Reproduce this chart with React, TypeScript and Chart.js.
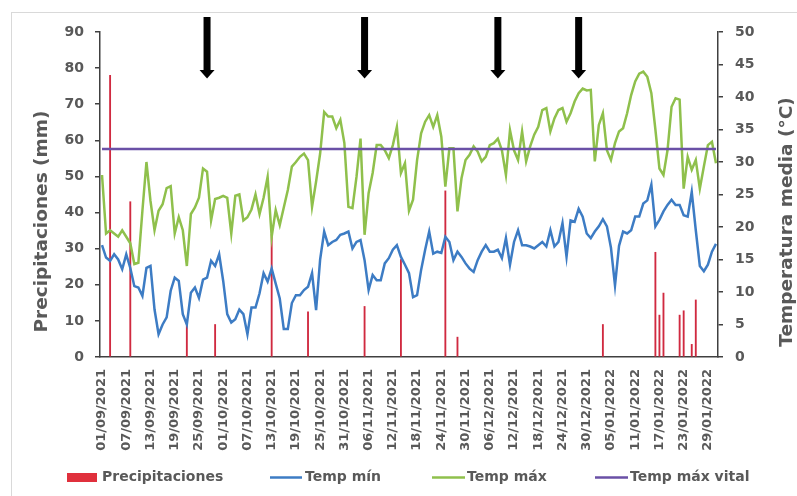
import React, { useEffect, useRef } from 'react';
import { Chart, registerables } from 'chart.js';

Chart.register(...registerables);

// Daily series from 01/09/2021 to 31/01/2022
const FIRST_DAY = Date.UTC(2021, 8, 1);
const DAY_COUNT = 153;
const TICK_EVERY = 6;

const dates: string[] = [];
for (let i = 0; i < DAY_COUNT; i++) {
  const d = new Date(FIRST_DAY + i * 86400000);
  const dd = String(d.getUTCDate()).padStart(2, '0');
  const mm = String(d.getUTCMonth() + 1).padStart(2, '0');
  dates.push(`${dd}/${mm}/${d.getUTCFullYear()}`);
}

// Rain events (mm); every other day is dry
const rainEvents: [string, number][] = [
  ['03/09/2021', 78],
  ['08/09/2021', 43],
  ['22/09/2021', 9],
  ['29/09/2021', 9],
  ['13/10/2021', 34],
  ['22/10/2021', 12.5],
  ['05/11/2021', 14],
  ['14/11/2021', 27],
  ['25/11/2021', 46],
  ['28/11/2021', 5.5],
  ['03/01/2022', 9],
  ['16/01/2022', 29],
  ['17/01/2022', 11.6],
  ['18/01/2022', 17.7],
  ['22/01/2022', 11.6],
  ['23/01/2022', 12.8],
  ['25/01/2022', 3.5],
  ['26/01/2022', 15.8],
];

// Daily minimum temperature (°C)
const tempMin: number[] = [
  17.2, 15.3, 14.8, 15.8, 15, 13.5, 15.8, 13.7, 10.9, 10.7,
  9.4, 13.7, 14, 7.3, 3.5, 5, 6.1, 10.2, 12.2, 11.7,
  6.6, 5, 9.9, 10.7, 9.1, 11.9, 12.2, 14.8, 14, 15.8,
  11.7, 6.6, 5.3, 5.8, 7.3, 6.6, 3.5, 7.6, 7.6, 9.8,
  12.9, 11.6, 13.6, 11.3, 9, 4.3, 4.3, 8.3, 9.5, 9.5,
  10.3, 10.8, 12.9, 7.2, 15, 19.3, 17.2, 17.7, 18, 18.8,
  19, 19.3, 16.7, 17.7, 18, 14.9, 10.3, 12.6, 11.8, 11.8,
  14.4, 15.2, 16.5, 17.2, 15.4, 14.2, 12.9, 9.2, 9.5, 13.4,
  16.5, 19.3, 15.9, 16.2, 16, 18.5, 17.7, 14.9, 16.2, 15.4,
  14.4, 13.6, 13.1, 14.9, 16.2, 17.2, 16.2, 16.2, 16.5, 15.2,
  18.3, 14.2, 17.7, 19.5, 17.2, 17.2, 17, 16.7, 17.2, 17.7,
  17, 19.5, 17, 17.7, 20.6, 15.4, 21, 20.8, 22.8, 21.6,
  19, 18.3, 19.3, 20.1, 21.2, 20.1, 16.8, 11, 17.1, 19.3,
  19, 19.5, 21.6, 21.6, 23.6, 24.1, 26.5, 20.1, 21.1, 22.4,
  23.4, 24.2, 23.4, 23.4, 21.8, 21.6, 25.4, 19.5, 14, 13.2,
  14.2, 16.2, 17.4,
];

// Daily maximum temperature (°C)
const tempMax: number[] = [
  28, 19, 19.5, 19, 18.5, 19.5, 18.5, 17.5, 14.3, 14.5,
  22.5, 30, 24, 19.5, 22.5, 23.5, 26, 26.3, 19, 21.5,
  19.5, 14, 22, 23, 24.5, 29, 28.5, 21, 24.3, 24.5,
  24.8, 24.5, 19, 24.8, 25, 21, 21.5, 22.7, 25, 22,
  24.5, 27.7, 18.5, 22.6, 20.3, 23, 25.7, 29.3, 30, 30.8,
  31.3, 30.3, 23.1, 27, 31.3, 37.7, 37, 37, 35.2, 36.5,
  32.9, 23.1, 22.9, 27.7, 33.6, 18.8, 25.2, 28.3, 32.6, 32.6,
  31.8, 30.6, 32.6, 35.4, 28.3, 29.8, 22.5, 24.2, 30.3, 34.4,
  36.2, 37.2, 35.4, 37.2, 33.9, 26.2, 32.1, 32.1, 22.4, 27.5,
  30.3, 31.1, 32.4, 31.6, 30.1, 30.8, 32.6, 32.9, 33.6, 31.8,
  28, 34.9, 31.8, 30.3, 34.7, 30.1, 32.4, 34.2, 35.4, 38,
  38.3, 34.7, 36.7, 38, 38.3, 36.2, 37.5, 39.3, 40.6, 41.3,
  41, 41.1, 30.1, 35.7, 37.5, 31.8, 30.3, 32.9, 34.7, 35.2,
  37.5, 40.3, 42.4, 43.6, 43.9, 43.1, 40.6, 35, 29, 28,
  31.8, 38.5, 39.8, 39.6, 25.9, 30.8, 28.8, 30.3, 25.9, 29.3,
  32.6, 33.1, 29.8,
];

// Upper vital temperature threshold (°C)
const TEMP_MAX_VITAL = 32;

// Days marked with an arrow above the plot
const arrowDates: string[] = ['27/09/2021', '05/11/2021', '08/12/2021', '28/12/2021'];

const precipitation: (number | null)[] = dates.map((d) => {
  const hit = rainEvents.find((e) => e[0] === d);
  return hit ? hit[1] : null;
});

const FONT = "'DejaVu Sans', sans-serif";
const TEXT = '#595959';
const AXIS = '#404040';
const RAIN_COLOR = '#e0303c';

const decorPlugin = {
  id: 'decor',
  beforeDraw(chart: any) {
    const { ctx, width, height } = chart;
    ctx.save();
    ctx.fillStyle = '#ffffff';
    ctx.fillRect(0, 0, width, height);
    ctx.strokeStyle = '#d9d9d9';
    ctx.lineWidth = 1;
    ctx.strokeRect(11.5, 12.5, width + 10, height + 10);
    ctx.restore();
  },
  afterDraw(chart: any) {
    const { ctx } = chart;
    const xs = chart.scales.x;
    ctx.save();

    // arrows
    ctx.fillStyle = '#000000';
    arrowDates.forEach((d) => {
      const idx = dates.indexOf(d);
      const x = xs.getPixelForValue(idx);
      ctx.fillRect(x - 3.5, 17, 7, 54);
      ctx.beginPath();
      ctx.moveTo(x - 7.5, 70);
      ctx.lineTo(x + 7.5, 70);
      ctx.lineTo(x, 78.5);
      ctx.closePath();
      ctx.fill();
    });

    // axis titles
    ctx.fillStyle = TEXT;
    ctx.font = `bold 18.5px ${FONT}`;
    ctx.textAlign = 'center';
    ctx.textBaseline = 'alphabetic';
    ctx.save();
    ctx.translate(47, 221.5);
    ctx.rotate(-Math.PI / 2);
    ctx.fillText('Precipitaciones (mm)', 0, 0);
    ctx.restore();
    ctx.save();
    ctx.translate(791.5, 222);
    ctx.rotate(-Math.PI / 2);
    ctx.fillText('Temperatura media (°C)', 0, 0);
    ctx.restore();

    // legend
    const ds = chart.data.datasets;
    const ly = 477.5;
    ctx.font = `bold 14px ${FONT}`;
    ctx.textAlign = 'left';
    ctx.textBaseline = 'middle';
    const items = [
      { sym: 'box', x0: 67, x1: 97, tx: 102, d: ds[0] },
      { sym: 'line', x0: 270, x1: 302, tx: 305, d: ds[1] },
      { sym: 'line', x0: 432, x1: 465, tx: 467, d: ds[2] },
      { sym: 'line', x0: 595, x1: 628, tx: 630, d: ds[3] },
    ];
    items.forEach((it) => {
      if (it.sym === 'box') {
        ctx.fillStyle = RAIN_COLOR;
        ctx.fillRect(it.x0, ly - 4.5, it.x1 - it.x0, 9);
      } else {
        ctx.strokeStyle = it.d.borderColor;
        ctx.lineWidth = 2.5;
        ctx.beginPath();
        ctx.moveTo(it.x0, ly);
        ctx.lineTo(it.x1, ly);
        ctx.stroke();
      }
      ctx.fillStyle = TEXT;
      ctx.fillText(it.d.label, it.tx, ly);
    });
    ctx.restore();
  },
};

export default function App() {
  const ref = useRef<HTMLCanvasElement | null>(null);

  useEffect(() => {
    if (!ref.current) return;
    const chart = new Chart(ref.current, {
      type: 'bar',
      data: {
        labels: dates,
        datasets: [
          {
            type: 'bar',
            label: 'Precipitaciones',
            data: precipitation,
            backgroundColor: '#d02a40',
            borderWidth: 0,
            barThickness: 1.2,
            yAxisID: 'y',
            order: 3,
          },
          {
            type: 'line',
            label: 'Temp mín',
            data: tempMin,
            borderColor: '#3d7cc4',
            backgroundColor: '#3d7cc4',
            borderWidth: 2.5,
            pointRadius: 0,
            tension: 0,
            yAxisID: 'y1',
            order: 1,
          },
          {
            type: 'line',
            label: 'Temp máx',
            data: tempMax,
            borderColor: '#8fc04c',
            backgroundColor: '#8fc04c',
            borderWidth: 2.5,
            pointRadius: 0,
            tension: 0,
            yAxisID: 'y1',
            order: 2,
          },
          {
            type: 'line',
            label: 'Temp máx vital',
            data: dates.map(() => TEMP_MAX_VITAL),
            borderColor: '#6a50a6',
            backgroundColor: '#6a50a6',
            borderWidth: 2.5,
            pointRadius: 0,
            tension: 0,
            yAxisID: 'y1',
            order: 0,
          },
        ],
      },
      options: {
        responsive: false,
        animation: false,
        devicePixelRatio: 1,
        layout: { padding: { top: 32, left: 0, right: 0, bottom: 0 } },
        plugins: {
          legend: { display: false },
          tooltip: { enabled: false },
        },
        scales: {
          x: {
            type: 'category',
            offset: true,
            afterFit: (s: any) => {
              s.height = 139;
            },
            grid: { display: true, drawOnChartArea: false, drawTicks: false },
            border: { display: true, color: AXIS, width: 1.5 },
            ticks: {
              autoSkip: false,
              minRotation: 90,
              maxRotation: 90,
              padding: 12,
              color: TEXT,
              font: { family: FONT, size: 13, weight: 'bold' },
              callback: (_v: any, i: number) => (i % TICK_EVERY === 0 ? dates[i] : null),
            },
          },
          y: {
            position: 'left',
            min: 0,
            max: 90,
            afterFit: (s: any) => {
              s.width = 100;
            },
            grid: { drawOnChartArea: false, drawTicks: true, tickLength: 5, color: AXIS, lineWidth: 1.5 },
            border: { display: true, color: AXIS, width: 1.5 },
            ticks: {
              stepSize: 10,
              padding: 11,
              color: TEXT,
              font: { family: FONT, size: 14, weight: 'bold' },
            },
          },
          y1: {
            position: 'right',
            min: 0,
            max: 50,
            afterFit: (s: any) => {
              s.width = 79;
            },
            grid: { drawOnChartArea: false, drawTicks: true, tickLength: 5, color: AXIS, lineWidth: 1.5 },
            border: { display: true, color: AXIS, width: 1.5 },
            ticks: {
              stepSize: 5,
              padding: 12,
              color: TEXT,
              font: { family: FONT, size: 14, weight: 'bold' },
            },
          },
        },
      },
      plugins: [decorPlugin],
    } as any);
    return () => chart.destroy();
  }, []);

  return (
    <div style={{ position: 'absolute', left: 0, top: 0, width: 797, height: 496 }}>
      <canvas ref={ref} width={797} height={496} style={{ display: 'block' }} />
    </div>
  );
}
